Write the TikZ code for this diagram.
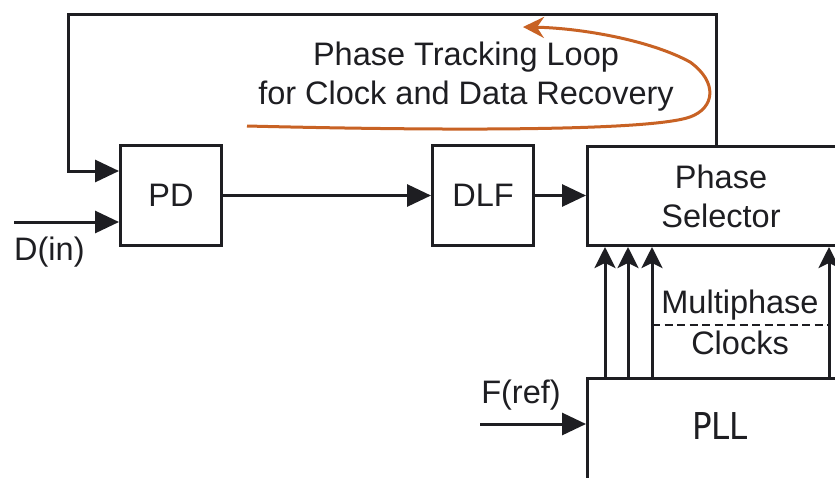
\documentclass[tikz,border=0pt]{standalone}
\usepackage{fontspec}
\setmainfont{Liberation Sans}
\newfontfamily\pllfont{DejaVu Sans}[FakeStretch=0.88]
\usetikzlibrary{arrows.meta,calc}
\definecolor{ink}{HTML}{1E1E22}
\definecolor{loopor}{HTML}{C86224}
\begin{document}
\begin{tikzpicture}[x=1pt,y=-1pt,
  blk/.style={draw=ink, line width=3pt, inner sep=0pt, text=ink,
    font=\fontsize{32.5}{40}\selectfont, align=center},
  lbl/.style={inner sep=0pt, text=ink, font=\fontsize{32.5}{40}\selectfont, align=center},
  arr/.style={draw=ink, line width=3pt, -{Triangle[length=24pt,width=22pt]}},
  varr/.style={draw=ink, line width=3pt, -{Stealth[length=21pt,width=21pt,inset=5pt]}},
  dsh/.style={draw=ink, line width=1.6pt, dash pattern=on 8pt off 4.5pt},
  orarr/.style={draw=loopor, line width=3pt, -{Stealth[length=21pt,width=21pt,inset=7pt]}}]
\useasboundingbox (0,0) rectangle (835,477);
\clip (0,0) rectangle (835,477);
\fill[white] (0,0) rectangle (835,477);

% blocks
\node[blk, minimum width=101pt, minimum height=100pt] (PD) at (171,195.5) {PD};
\node[blk, minimum width=101pt, minimum height=100pt] (DLF) at (483,195.5) {DLF};
\node[blk, minimum width=267pt, minimum height=99pt] (PS) at (721,196) {Phase\\[-0.9pt]Selector};
\node[blk, minimum width=267pt, minimum height=120pt] (PLL) at (721,438.5) {};
\node[inner sep=0pt, text=ink, font=\pllfont\fontsize{37}{40}\selectfont] (plltxt) at (720,426.5) {PLL};

% labels
\node[lbl] (title) at (466,77) {Phase Tracking Loop\\[-1pt]for Clock and Data Recovery};
\node[lbl, anchor=base west] (din) at (14,260) {D(in)};
\node[lbl, anchor=base] (fref) at (521,403) {F(ref)};
\node[lbl, anchor=base] (mp) at (740,313) {Multiphase};
\node[lbl, anchor=base] (clk) at (740,354) {Clocks};

% loop wiring
\coordinate (lpR) at (716,14);
\coordinate (lpL) at (68,14);
\draw[arr] (PS.north -| lpR) -- (lpR) -- (lpL) |- ($(PD.west)+(0,-24.5)$);

% inputs
\coordinate (dinS) at (14,222);
\draw[arr] (dinS) -- (dinS -| PD.west);
\coordinate (frefS) at (480,424);
\draw[arr] (frefS) -- (frefS -| PLL.west);

% data path
\draw[arr] (PD.east) -- (DLF.west);
\draw[arr] (DLF.east) -- (DLF.east -| PS.west);

% multiphase clocks
\foreach \xx in {605,628,652,829}
  \draw[varr] (PLL.north -| \xx,0) -- (PS.south -| \xx,0);
\coordinate (ds1) at (652,325);
\coordinate (ds2) at (829,325);
\draw[dsh] (ds1) -- (ds2);

% orange loop arrow
\coordinate (oa) at (247,126);
\coordinate (ob) at (690,117);
\coordinate (oc) at (690,62);
\coordinate (od) at (523,27);
\draw[orarr] (oa) .. controls (450,131) and (650,131) .. (ob)
  .. controls (715,108) and (718,82) .. (oc)
  .. controls (650,40) and (580,28) .. (od);
\end{tikzpicture}
\end{document}
